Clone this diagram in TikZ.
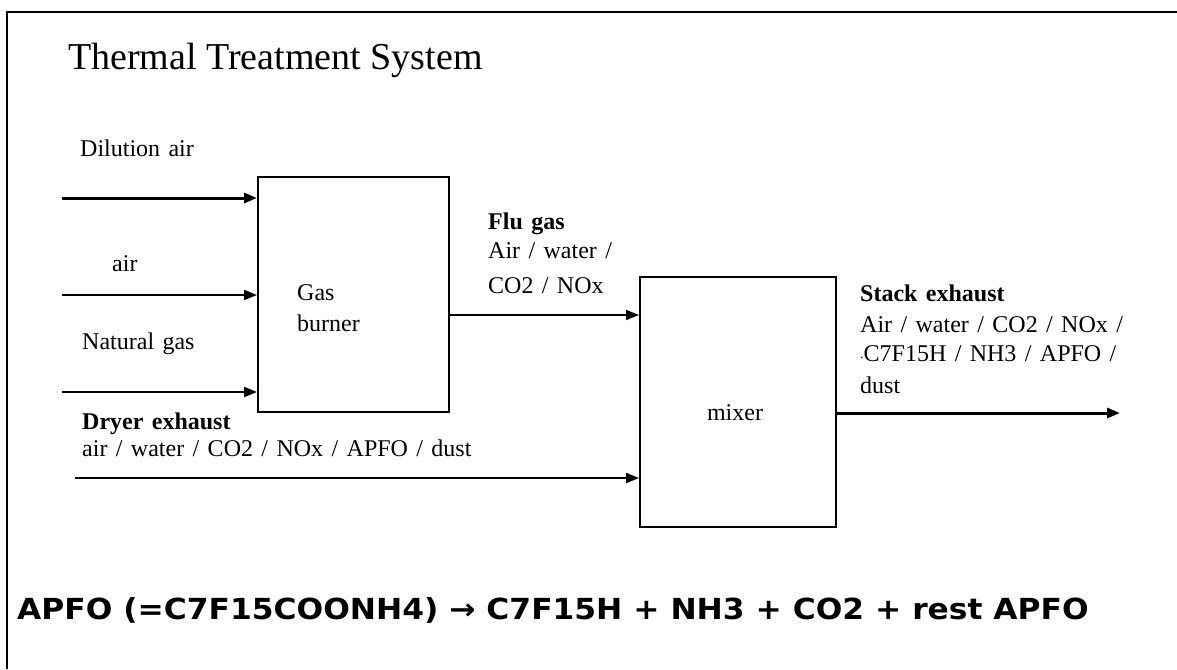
\documentclass[tikz,border=0pt]{standalone}
\usepackage{fontspec}
\setmainfont{Liberation Serif}[WordSpace=1.4]
\newfontfamily\titlefont{Liberation Serif}
\newfontfamily\formfont{DejaVu Sans}
\usetikzlibrary{arrows.meta}
\begin{document}
\begin{tikzpicture}[x=1pt,y=-1pt,
  lbl/.style={anchor=base west,inner sep=0pt,font=\fontsize{24}{26}\selectfont},
  blbl/.style={anchor=base west,inner sep=0pt,font=\fontsize{24}{26}\selectfont\bfseries},
  box/.style={draw,line width=2pt,inner sep=0pt},
  flow/.style={line width=2pt,-{Triangle[length=13pt,width=10pt]}}]
\useasboundingbox (0,0) rectangle (1177,669);
\fill[white] (0,0) rectangle (1177,669);
\draw[line width=2pt] (1177,12) -- (7,12) -- (7,669);
\node[anchor=base west,inner sep=0pt,font=\titlefont\fontsize{38}{40}\selectfont] (title) at (68,70) {Thermal Treatment System};
% boxes
\node[box,minimum width=191pt,minimum height=235pt] (burner) at (353.5,294.5) {};
\node[box,minimum width=196pt,minimum height=250pt] (mixer) at (738,402) {};
\node[lbl] (gas) at (297,300) {Gas};
\node[lbl] (burn) at (297,331) {burner};
\node[anchor=base,inner sep=0pt,font=\fontsize{24}{26}\selectfont] (mix) at (735,420) {mixer};
% input labels
\node[lbl] (ldil) at (80,156) {Dilution air};
\node[lbl] (lair) at (112,271) {air};
\node[lbl] (lng) at (82,349) {Natural gas};
% inputs
\coordinate (in1) at (62,198);
\coordinate (in2) at (62,295);
\coordinate (in3) at (62,392);
\draw[flow,line width=3pt] (in1) -- (burner.west |- in1);
\draw[flow] (in2) -- (burner.west |- in2);
\draw[flow] (in3) -- (burner.west |- in3);
% flu gas
\node[blbl] (lflu) at (488,229) {Flu gas};
\node[lbl] (lflu2) at (488,258) {Air / water /};
\node[lbl] (lflu3) at (488,293) {CO2 / NOx};
\coordinate (fl) at (449,315);
\draw[flow,line width=1.5pt] (burner.east |- fl) -- (mixer.west |- fl);
% dryer
\node[blbl] (ldry) at (82,429) {Dryer exhaust};
\node[lbl] (ldry2) at (82,456) {air / water / CO2 / NOx / APFO / dust};
\coordinate (dr) at (75,478);
\draw[flow] (dr) -- (mixer.west |- dr);
% stack
\node[blbl] (lst) at (860,301) {Stack exhaust};
\node[lbl] (lst2) at (860,332) {Air / water / CO2 / NOx /};
\node[lbl] (lst3) at (860,361) {{\fontsize{14}{14}\selectfont\raisebox{3pt}{.}}C7F15H / NH3 / APFO /};
\node[lbl] (lst4) at (860,393) {dust};
\coordinate (st) at (1120,413);
\draw[flow,line width=3pt] (mixer.east |- st) -- (st);
% formula
\node[anchor=base west,inner sep=0pt,font=\formfont\bfseries\fontsize{29}{32}\selectfont] (form) at (17,619) {\scalebox{1.08}[1]{APFO (=C7F15COONH4) → C7F15H + NH3 + CO2 + rest APFO}};
\end{tikzpicture}
\end{document}
